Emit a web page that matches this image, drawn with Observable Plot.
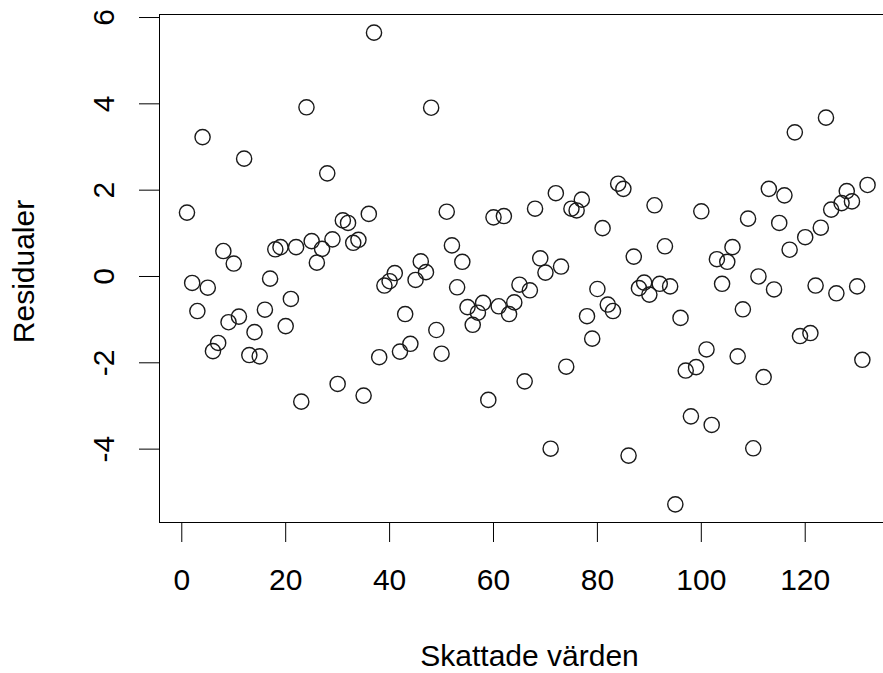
<!DOCTYPE html>
<html>
<head>
<meta charset="utf-8">
<script src="https://cdn.jsdelivr.net/npm/d3@7"></script>
<script src="https://cdn.jsdelivr.net/npm/@observablehq/plot@0.6"></script>
<style>
  html, body { margin: 0; padding: 0; background: #fff; overflow: hidden; }
  svg { overflow: hidden; }
</style>
</head>
<body>
<div id="chart"></div>
<script>
// Residuals indexed 1..132
const residuals = [
  1.48, -0.15, -0.80, 3.23, -0.26, -1.73, -1.54, 0.59, -1.06, 0.30,
  -0.93, 2.73, -1.82, -1.29, -1.85, -0.77, -0.05, 0.63, 0.68, -1.15,
  -0.52, 0.68, -2.90, 3.92, 0.82, 0.32, 0.64, 2.39, 0.86, -2.49,
  1.30, 1.24, 0.78, 0.85, -2.76, 1.45, 5.65, -1.87, -0.21, -0.11,
  0.08, -1.74, -0.87, -1.56, -0.08, 0.35, 0.10, 3.91, -1.24, -1.79,
  1.50, 0.72, -0.25, 0.34, -0.71, -1.12, -0.84, -0.61, -2.86, 1.37,
  -0.69, 1.40, -0.87, -0.60, -0.19, -2.43, -0.32, 1.57, 0.42, 0.09,
  -3.99, 1.93, 0.23, -2.09, 1.57, 1.53, 1.78, -0.92, -1.44, -0.29,
  1.12, -0.65, -0.80, 2.15, 2.03, -4.15, 0.46, -0.27, -0.14, -0.42,
  1.65, -0.17, 0.70, -0.23, -5.28, -0.96, -2.18, -3.24, -2.10, 1.51,
  -1.69, -3.44, 0.40, -0.17, 0.34, 0.68, -1.85, -0.76, 1.34, -3.98,
  0.00, -2.33, 2.03, -0.30, 1.24, 1.88, 0.62, 3.34, -1.38, 0.91,
  -1.31, -0.21, 1.13, 3.68, 1.55, -0.39, 1.70, 1.98, 1.74, -0.23,
  -1.93, 2.12
];
const xTicks = [0, 20, 40, 60, 80, 100, 120];
const yTicks = [-4, -2, 0, 2, 4, 6];
const xTitle = "Skattade värden";
const yTitle = "Residualer";

const data = residuals.map((r, k) => ({i: k + 1, r}));

const FONT = "'Liberation Sans', Arial, Helvetica, sans-serif";

const chart = Plot.plot({
  width: 883,
  height: 673,
  marginLeft: 159,
  marginRight: 0,
  marginTop: 14,
  marginBottom: 151,
  style: {fontFamily: FONT, color: "#000", background: "#fff"},
  x: {domain: [-4.29, 135.07], axis: null},
  y: {domain: [-5.70, 6.07], axis: null},
  marks: [
    Plot.frame({stroke: "#000", strokeWidth: 1, insetRight: -30}),
    Plot.axisX({
      ticks: xTicks, tickSize: 20, tickPadding: 26, fontSize: 30,
      tickFormat: d => String(d), label: null, stroke: "#000"
    }),
    Plot.axisY({
      ticks: yTicks, tickSize: 20, tickFormat: () => "", label: null, stroke: "#000"
    }),
    Plot.text(yTicks, {
      y: d => d, text: d => String(d), frameAnchor: "left", dx: -55,
      rotate: -90, fontSize: 30, textAnchor: "middle", lineAnchor: "middle", fill: "#000"
    }),
    Plot.text([yTitle], {
      text: d => d, frameAnchor: "left", dx: -135, dy: 3, rotate: -90,
      fontSize: 30, textAnchor: "middle", lineAnchor: "middle", fill: "#000"
    }),
    Plot.text([xTitle], {
      text: d => d, frameAnchor: "bottom", dx: 8, dy: 134,
      fontSize: 30, textAnchor: "middle", lineAnchor: "middle", fill: "#000"
    }),
    Plot.dot(data, {
      x: "i", y: "r", r: 7.6, stroke: "#1a1a1a", strokeWidth: 1.4, fill: "none"
    })
  ]
});
document.getElementById("chart").appendChild(chart);
</script>
</body>
</html>
